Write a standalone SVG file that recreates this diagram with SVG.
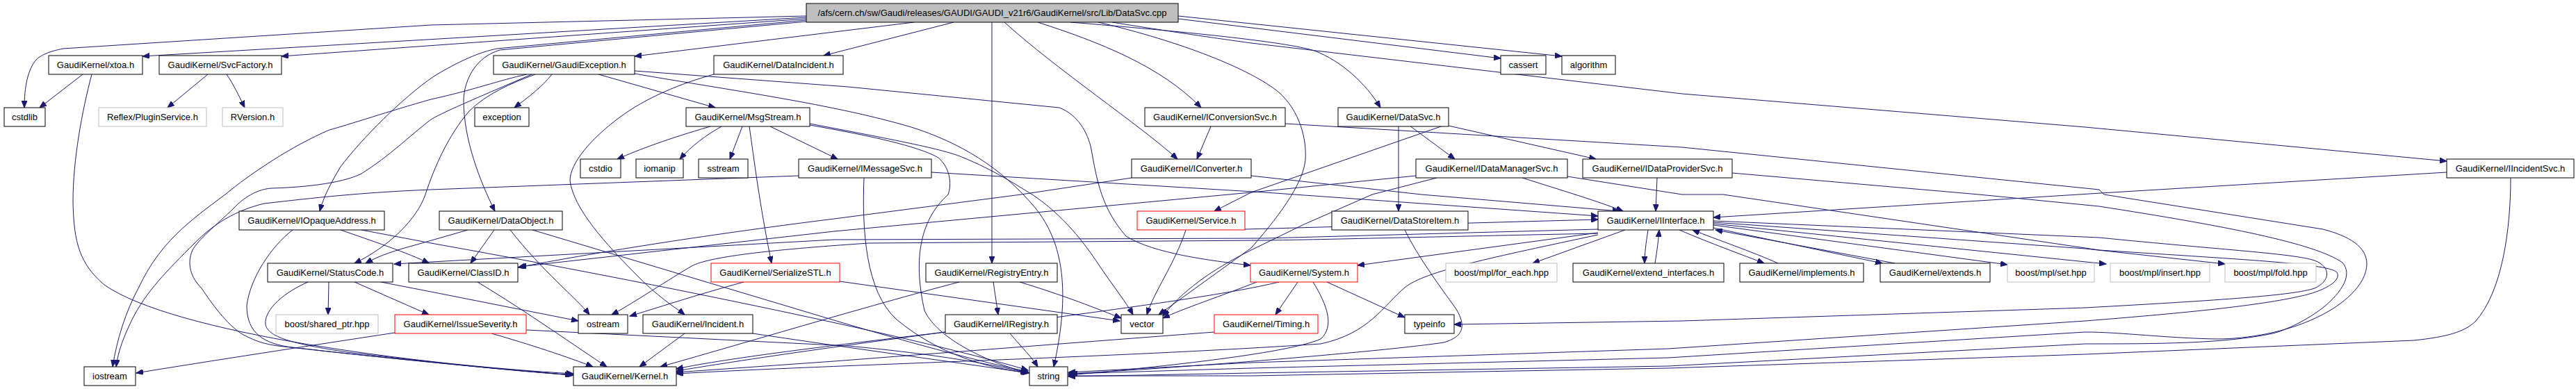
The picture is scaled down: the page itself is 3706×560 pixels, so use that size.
<svg xmlns="http://www.w3.org/2000/svg" width="3706" height="560" viewBox="0 0 3706 560">
<style>
.n rect{fill:#fff;stroke:#000;stroke-width:1}
.g rect{fill:#fff;stroke:#bfbfbf;stroke-width:1}
.r rect{fill:#fff;stroke:#ff0000;stroke-width:1}
.root rect{fill:#bfbfbf;stroke:#000;stroke-width:1}
text{font-family:"Liberation Sans",Arial,sans-serif;font-size:13px;fill:#000;text-anchor:middle}
#edges path{fill:none;stroke:#191970;stroke-width:1;marker-end:url(#ah)}
</style>
<defs>
<marker id="ah" markerWidth="11" markerHeight="8" refX="10" refY="4" orient="auto" markerUnits="userSpaceOnUse"><path d="M0,0 L10,4 L0,8 z" fill="#191970" stroke="#191970"/></marker>
</defs>
<rect width="3706" height="560" fill="#fff"/>
<g id="edges">
<path d="M1160,23 L620,36 L91,70 C70,74 58,80 52,86 C40,100 35,125 35,155"/>
<path d="M1160,25 L205,81"/>
<path d="M1160,27 L405,81"/>
<path d="M1315,32 L913,81"/>
<path d="M1372,32 L1185,80"/>
<path d="M1160,29 L715,70 C690,75 660,88 624,110 C580,140 520,200 490,240 C475,265 465,285 460,304"/>
<path d="M1160,31 L719,72 C700,78 690,88 683,97 C672,112 667,130 667,145 C667,200 690,260 712,304"/>
<path d="M1427,32 L1427,379"/>
<path d="M1445,32 C1520,100 1640,180 1694,229"/>
<path d="M1493,32 C1580,60 1670,95 1728,155"/>
<path d="M1540,32 C1700,45 1850,60 1891,73 C1930,88 1965,120 1986,155"/>
<path d="M1695,27 L2159,84"/>
<path d="M1695,23 L2247,81"/>
<path d="M1600,32 C1700,48 1750,55 1800,62 L2420,135 L3000,183 L3520,232"/>
<path d="M1580,32 C1700,60 1800,100 1840,133 C1870,160 1880,200 1878,230 C1875,260 1850,300 1800,357 L1667,453"/>
<path d="M119,107 L57,155"/>
<path d="M132,107 C118,160 105,230 105,290 C106,350 115,380 150,410 C250,480 600,525 825,538"/>
<path d="M299,107 L241,155"/>
<path d="M326,107 C335,120 345,140 352,155"/>
<path d="M794,107 C780,125 760,140 740,155"/>
<path d="M861,107 L1029,155"/>
<path d="M913,102 L1220,125 L1524,155 C1550,165 1565,190 1570,215 C1578,260 1585,300 1620,340 C1660,365 1740,375 1799,382"/>
<path d="M913,106 C1050,130 1200,150 1311,183 C1380,205 1440,240 1490,300 C1530,350 1540,420 1516,528"/>
<path d="M758,107 C720,115 680,130 620,143 C560,160 500,180 474,187 C420,210 360,250 324,280 C270,320 230,350 200,413 C180,450 168,490 162,528"/>
<path d="M765,107 C700,135 640,160 620,172 C590,195 560,225 520,250 C490,265 430,270 390,271 C365,273 345,290 336,300 C310,325 285,345 277,360 C268,380 275,400 290,415 C310,445 330,470 350,482 C370,492 380,495 400,498 C550,515 700,530 823,540"/>
<path d="M770,107 C735,120 700,135 675,160 C645,195 625,240 612,280 C600,315 560,355 510,379"/>
<path d="M1027,107 C980,120 930,140 890,170 C850,200 820,235 820,260 C825,300 870,350 920,400 C950,430 975,445 985,453"/>
<path d="M1022,182 C960,200 920,215 888,229"/>
<path d="M1038,182 C1015,195 995,210 978,229"/>
<path d="M1068,182 L1050,229"/>
<path d="M1108,182 L1205,229"/>
<path d="M1078,182 C1085,230 1092,290 1110,379"/>
<path d="M1165,180 C1250,195 1320,210 1350,227 C1370,245 1368,270 1364,280 C1320,320 1315,380 1330,447 C1345,480 1400,515 1479,537"/>
<path d="M1165,178 C1280,200 1360,215 1386,227 C1430,245 1460,265 1485,280 C1530,310 1560,350 1580,380 C1600,410 1620,435 1630,453"/>
<path d="M1340,248 L1820,277 L2299,311"/>
<path d="M1243,256 C1240,330 1245,420 1290,460 C1350,510 1420,530 1481,537"/>
<path d="M1149,253 L620,273 C520,277 450,285 380,293 C330,305 300,330 280,350 C240,390 210,420 190,460 C178,485 170,505 167,528"/>
<path d="M1742,182 L1722,229"/>
<path d="M1849,178 L2420,212 L3020,273 L3027,280 L3342,330 C3380,340 3405,355 3405,380 C3405,410 3370,440 3333,457 C3290,478 3234,488 3189,488 C3120,487 3050,478 3000,478 L2400,515 L1800,530 L1540,538"/>
<path d="M1800,253 L2045,280 L2330,304"/>
<path d="M1628,256 L1469,280 L1200,315 C1000,340 850,365 745,385"/>
<path d="M2037,253 L1800,277 L1200,333 L747,384"/>
<path d="M673,331 L600,352 C570,360 545,368 526,379"/>
<path d="M2299,330 L1820,343 L1200,345 L567,380"/>
<path d="M2299,336 C2100,340 1900,345 1820,346 L1250,350 C1100,360 1020,370 995,383 C950,410 905,440 880,453"/>
<path d="M2076,181 L1800,277 L1747,304"/>
<path d="M2012,181 L2012,304"/>
<path d="M2028,181 L2093,229"/>
<path d="M2084,181 L2296,229"/>
<path d="M490,331 C530,345 590,365 617,379"/>
<path d="M421,331 C390,355 360,400 355,440 C355,480 380,495 420,500 C550,515 700,530 825,540"/>
<path d="M520,331 L620,350 C900,400 1300,480 1479,533"/>
<path d="M711,331 L677,379"/>
<path d="M734,331 C780,390 830,430 848,453"/>
<path d="M766,331 L1220,467 C1350,505 1430,525 1479,535"/>
<path d="M473,406 L472,453"/>
<path d="M510,406 L617,453"/>
<path d="M443,406 C400,425 380,450 382,467 C385,485 420,495 500,507 C650,525 750,535 825,540"/>
<path d="M548,406 L620,420 L832,462"/>
<path d="M687,406 C760,450 830,500 873,528"/>
<path d="M707,480 C760,495 820,515 853,528"/>
<path d="M568,479 C450,497 300,520 196,537"/>
<path d="M757,475 L1220,498 C1350,510 1430,525 1479,537"/>
<path d="M1070,406 C1000,425 940,445 906,455"/>
<path d="M1208,405 L1611,462"/>
<path d="M985,480 L920,528"/>
<path d="M1083,480 C1250,505 1400,525 1479,537"/>
<path d="M1429,406 L1436,453"/>
<path d="M1467,406 C1530,425 1580,445 1613,458"/>
<path d="M1380,406 C1250,440 1050,500 950,528"/>
<path d="M1453,480 C1470,500 1485,515 1493,528"/>
<path d="M1360,478 C1200,497 1050,515 973,531"/>
<path d="M1706,331 C1690,380 1660,420 1650,453"/>
<path d="M1791,330 L2299,316"/>
<path d="M2021,331 C2040,370 2070,410 2095,445 C2110,470 2105,485 2077,493 C2000,505 1700,530 1537,538"/>
<path d="M1867,406 L1835,453"/>
<path d="M1909,406 L2021,457"/>
<path d="M1808,406 C1760,425 1700,445 1673,458"/>
<path d="M1889,406 C1910,440 1920,470 1900,488 C1850,510 1650,530 1537,540"/>
<path d="M1840,406 C1700,440 1300,480 973,534"/>
<path d="M1747,478 L1200,520 L973,536"/>
<path d="M2299,335 L1953,382"/>
<path d="M2338,331 L2205,379"/>
<path d="M2371,331 C2368,350 2366,365 2366,379"/>
<path d="M2381,379 C2384,360 2386,345 2387,331"/>
<path d="M2416,331 C2460,350 2510,368 2538,379"/>
<path d="M2558,379 C2520,362 2470,345 2435,331"/>
<path d="M2465,328 L2708,379"/>
<path d="M2726,379 L2468,331"/>
<path d="M2465,324 L2888,381"/>
<path d="M2465,322 L3030,380"/>
<path d="M2465,320 L3000,358 L3201,380"/>
<path d="M2299,338 C2150,370 2050,390 2021,414 C1990,440 1970,480 1900,495 C1600,515 1200,525 973,538"/>
<path d="M2465,318 L3020,342 C3200,360 3300,365 3330,375 C3355,385 3352,405 3330,415 C3300,425 3200,432 3000,443 L2420,462 L2092,467"/>
<path d="M2255,254 L2420,280 L2479,280 L3020,360 C3250,375 3350,380 3362,392 C3370,405 3340,420 3311,426 C3250,440 3150,450 3000,462 L2400,502 L1800,522 L1537,536"/>
<path d="M2492,249 L2847,280 L3020,297 C3200,325 3330,350 3370,378 C3385,395 3370,420 3342,443 C3320,460 3290,475 3270,480 C3200,495 3100,495 3000,495 L2400,527 L1800,537 L1537,542"/>
<path d="M2190,256 C2250,275 2300,290 2335,304"/>
<path d="M2384,256 L2382,304"/>
<path d="M2067,256 L1974,280 L1876,323 L1800,360 C1740,390 1700,420 1673,455"/>
<path d="M3520,248 L3022,278 L2465,313"/>
<path d="M3612,256 C3612,330 3600,420 3561,463 C3545,478 3520,485 3473,490 L3000,510 L2400,530 L1800,541 L1537,541"/>
</g>
<g id="root" class="root"><rect x="1160" y="5" width="535" height="27"/><text x="1427.5" y="23">/afs/cern.ch/sw/Gaudi/releases/GAUDI/GAUDI_v21r6/GaudiKernel/src/Lib/DataSvc.cpp</text></g>
<g id="xtoa" class="n"><rect x="70" y="80" width="135" height="27"/><text x="137.5" y="98">GaudiKernel/xtoa.h</text></g>
<g id="svcfactory" class="n"><rect x="229" y="80" width="176" height="27"/><text x="317" y="98">GaudiKernel/SvcFactory.h</text></g>
<g id="gaudiexception" class="n"><rect x="710" y="80" width="203" height="27"/><text x="811.5" y="98">GaudiKernel/GaudiException.h</text></g>
<g id="dataincident" class="n"><rect x="1027" y="80" width="186" height="27"/><text x="1120" y="98">GaudiKernel/DataIncident.h</text></g>
<g id="cassert" class="n"><rect x="2159" y="80" width="65" height="27"/><text x="2191.5" y="98">cassert</text></g>
<g id="algorithm" class="n"><rect x="2247" y="80" width="77" height="27"/><text x="2285.5" y="98">algorithm</text></g>
<g id="cstdlib" class="n"><rect x="6" y="155" width="59" height="27"/><text x="35.5" y="173">cstdlib</text></g>
<g id="pluginservice" class="g"><rect x="142" y="155" width="155" height="27"/><text x="219.5" y="173">Reflex/PluginService.h</text></g>
<g id="rversion" class="g"><rect x="320" y="155" width="87" height="27"/><text x="363.5" y="173">RVersion.h</text></g>
<g id="exception" class="n"><rect x="683" y="155" width="78" height="27"/><text x="722" y="173">exception</text></g>
<g id="msgstream" class="n"><rect x="987" y="155" width="178" height="27"/><text x="1076" y="173">GaudiKernel/MsgStream.h</text></g>
<g id="iconversionsvc" class="n"><rect x="1647" y="155" width="202" height="27"/><text x="1748" y="173">GaudiKernel/IConversionSvc.h</text></g>
<g id="datasvc" class="n"><rect x="1925" y="155" width="159" height="27"/><text x="2004.5" y="173">GaudiKernel/DataSvc.h</text></g>
<g id="cstdio" class="n"><rect x="835" y="229" width="58" height="27"/><text x="864" y="247">cstdio</text></g>
<g id="iomanip" class="n"><rect x="915" y="229" width="68" height="27"/><text x="949" y="247">iomanip</text></g>
<g id="sstream" class="n"><rect x="1005" y="229" width="71" height="27"/><text x="1040.5" y="247">sstream</text></g>
<g id="imessagesvc" class="n"><rect x="1149" y="229" width="191" height="27"/><text x="1244.5" y="247">GaudiKernel/IMessageSvc.h</text></g>
<g id="iconverter" class="n"><rect x="1628" y="229" width="172" height="27"/><text x="1714" y="247">GaudiKernel/IConverter.h</text></g>
<g id="idatamanagersvc" class="n"><rect x="2037" y="229" width="218" height="27"/><text x="2146" y="247">GaudiKernel/IDataManagerSvc.h</text></g>
<g id="idataprovidersvc" class="n"><rect x="2277" y="229" width="215" height="27"/><text x="2384.5" y="247">GaudiKernel/IDataProviderSvc.h</text></g>
<g id="iincidentsvc" class="n"><rect x="3520" y="229" width="183" height="27"/><text x="3611.5" y="247">GaudiKernel/IIncidentSvc.h</text></g>
<g id="iopaqueaddress" class="n"><rect x="344" y="304" width="209" height="27"/><text x="448.5" y="322">GaudiKernel/IOpaqueAddress.h</text></g>
<g id="dataobject" class="n"><rect x="632" y="304" width="177" height="27"/><text x="720.5" y="322">GaudiKernel/DataObject.h</text></g>
<g id="service" class="r"><rect x="1636" y="304" width="155" height="27"/><text x="1713.5" y="322">GaudiKernel/Service.h</text></g>
<g id="datastoreitem" class="n"><rect x="1916" y="304" width="196" height="27"/><text x="2014" y="322">GaudiKernel/DataStoreItem.h</text></g>
<g id="iinterface" class="n"><rect x="2299" y="304" width="166" height="27"/><text x="2382" y="322">GaudiKernel/IInterface.h</text></g>
<g id="statuscode" class="n"><rect x="385" y="379" width="180" height="27"/><text x="475" y="397">GaudiKernel/StatusCode.h</text></g>
<g id="classid" class="n"><rect x="588" y="379" width="157" height="27"/><text x="666.5" y="397">GaudiKernel/ClassID.h</text></g>
<g id="serializestl" class="r"><rect x="1023" y="379" width="185" height="27"/><text x="1115.5" y="397">GaudiKernel/SerializeSTL.h</text></g>
<g id="registryentry" class="n"><rect x="1332" y="379" width="189" height="27"/><text x="1426.5" y="397">GaudiKernel/RegistryEntry.h</text></g>
<g id="system" class="r"><rect x="1799" y="379" width="154" height="27"/><text x="1876" y="397">GaudiKernel/System.h</text></g>
<g id="foreach" class="g"><rect x="2080" y="379" width="160" height="27"/><text x="2160" y="397">boost/mpl/for_each.hpp</text></g>
<g id="extendinterfaces" class="n"><rect x="2263" y="379" width="217" height="27"/><text x="2371.5" y="397">GaudiKernel/extend_interfaces.h</text></g>
<g id="implements" class="n"><rect x="2503" y="379" width="178" height="27"/><text x="2592" y="397">GaudiKernel/implements.h</text></g>
<g id="extends" class="n"><rect x="2705" y="379" width="158" height="27"/><text x="2784" y="397">GaudiKernel/extends.h</text></g>
<g id="mplset" class="g"><rect x="2888" y="379" width="125" height="27"/><text x="2950.5" y="397">boost/mpl/set.hpp</text></g>
<g id="mplinsert" class="g"><rect x="3036" y="379" width="143" height="27"/><text x="3107.5" y="397">boost/mpl/insert.hpp</text></g>
<g id="mplfold" class="g"><rect x="3201" y="379" width="131" height="27"/><text x="3266.5" y="397">boost/mpl/fold.hpp</text></g>
<g id="sharedptr" class="g"><rect x="397" y="453" width="147" height="27"/><text x="470.5" y="471">boost/shared_ptr.hpp</text></g>
<g id="issueseverity" class="r"><rect x="568" y="453" width="189" height="27"/><text x="662.5" y="471">GaudiKernel/IssueSeverity.h</text></g>
<g id="ostream" class="n"><rect x="832" y="453" width="71" height="27"/><text x="867.5" y="471">ostream</text></g>
<g id="incident" class="n"><rect x="925" y="453" width="158" height="27"/><text x="1004" y="471">GaudiKernel/Incident.h</text></g>
<g id="iregistry" class="n"><rect x="1360" y="453" width="161" height="27"/><text x="1440.5" y="471">GaudiKernel/IRegistry.h</text></g>
<g id="vector" class="n"><rect x="1613" y="453" width="60" height="27"/><text x="1643" y="471">vector</text></g>
<g id="timing" class="r"><rect x="1747" y="453" width="149" height="27"/><text x="1821.5" y="471">GaudiKernel/Timing.h</text></g>
<g id="typeinfo" class="n"><rect x="2021" y="453" width="71" height="27"/><text x="2056.5" y="471">typeinfo</text></g>
<g id="iostream" class="n"><rect x="121" y="528" width="74" height="27"/><text x="158" y="546">iostream</text></g>
<g id="kernel" class="n"><rect x="825" y="528" width="148" height="27"/><text x="899" y="546">GaudiKernel/Kernel.h</text></g>
<g id="string" class="n"><rect x="1481" y="528" width="55" height="27"/><text x="1508.5" y="546">string</text></g>
</svg>
